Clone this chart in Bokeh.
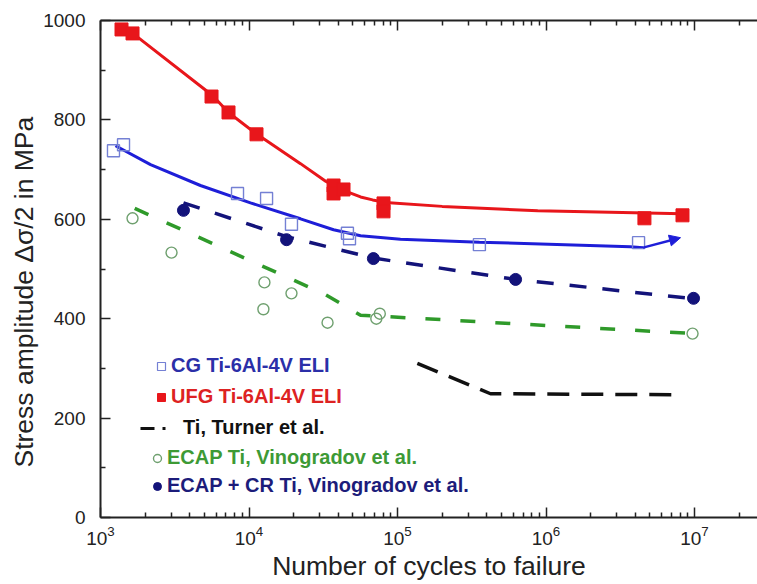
from bokeh.plotting import figure
from bokeh.models import (LogAxis, Legend, LegendItem, Arrow, NormalHead, Title,
                          FixedTicker, Range1d, LogTickFormatter)
from bokeh.embed import file_html
from bokeh.resources import INLINE

NAN = float("nan")

# ---------------- data ----------------
ufg_n = [1385, 1643, 5593, 7278, 11233, 37100, 37100, 43300, 80500, 80500, 4.6e6, 8.3e6]
ufg_s = [982, 974, 847, 815, 771, 668, 652, 660, 632, 616, 602, 608]
ufg_fit_n = [1365, 1650, 5680, 7278, 11070, 22230, 33000, 45000, 56400, 68000, 83000, 200000, 880000, 8.3e6]
ufg_fit_s = [984, 974, 849, 815, 773, 712, 676, 656, 645, 639, 634, 626, 617, 611]

cg_n = [1223, 1429, 8369, 13130, 19320, 46000, 47500, 356000, 4.2e6]
cg_s = [738, 750, 652, 642, 590, 572, 561, 549, 553]
cg_fit_n = [1262, 2173, 4710, 10230, 22230, 37100, 56400, 104700, 356000, 3.7e6, 4.5e6]
cg_fit_s = [748, 710, 668, 633, 601, 579, 567, 560, 554, 545, 543]
cg_arrow_n = [4.5e6, 8.05e6]
cg_arrow_s = [543, 563]

cr_n = [3620, 17900, 68800, 624000, 9.85e6]
cr_s = [618, 559, 521, 479, 441]
cr_fit_n = [3620, 17900, 68800, 624000, 1e7]
cr_fit_s = [633, 565, 522, 479, 440]

ecap_n = [1643, 3008, 12700, 19320, 12500, 33800, 72000, 76000, 9.7e6]
ecap_s = [602, 533, 473, 451, 419, 392, 400, 410, 370]
ecap_fit_n = [1700, 33000, 56400, 1e7]
ecap_fit_s = [622, 448, 407, 370]

turner_n = [136000, 423000, 8.06e6]
turner_s = [310, 249, 247]

x_major = [1e3, 1e4, 1e5, 1e6, 1e7]
x_minor = [k * 10 ** e for e in range(3, 8) for k in range(2, 10)]
y_major = [0, 200, 400, 600, 800, 1000]
y_minor = [100, 300, 500, 700, 900]

x_title = "Number of cycles to failure"
y_title = "Stress amplitude \u0394\u03c3/2 in MPa"
labels = ["CG Ti-6Al-4V ELI", "UFG Ti-6Al-4V ELI", "Ti, Turner et al.",
          "ECAP Ti, Vinogradov et al.", "ECAP + CR Ti, Vinogradov et al."]

# ---------------- styles ----------------
RED = "#e8161b"
BLUE = "#1e1ed8"
BLUE_MK = "#7480d4"
NAVY = "#13137a"
GREEN = "#2f9a2a"
GREEN_MK = "#6fa06f"
FONT = "Liberation Sans"

p = figure(width=757, height=584, x_axis_type="log",
           x_range=Range1d(1e3, 10 ** 7.4242), y_range=Range1d(0, 1000),
           output_backend="svg", toolbar_location=None,
           min_border_left=100, min_border_right=0, min_border_top=20, min_border_bottom=67)
p.outline_line_color = None
p.xgrid.visible = False
p.ygrid.visible = False
p.background_fill_color = "white"
p.border_fill_color = "white"

bottom = p.below[0]
left = p.left[0]

# fitted lines
p.line(ufg_fit_n, ufg_fit_s, line_color=RED, line_width=3)
p.line(cg_fit_n, cg_fit_s, line_color=BLUE, line_width=3)
p.line(cr_fit_n, cr_fit_s, line_color=NAVY, line_width=3.5, line_dash="17 16")
p.line(ecap_fit_n, ecap_fit_s, line_color=GREEN, line_width=3.5, line_dash="15 20")
p.line(turner_n, turner_s, line_color="#111111", line_width=3.5, line_dash="22 12")

p.add_layout(Arrow(end=NormalHead(size=11, fill_color=BLUE, line_color=BLUE),
                   x_start=cg_arrow_n[0], y_start=cg_arrow_s[0],
                   x_end=cg_arrow_n[1], y_end=cg_arrow_s[1],
                   line_color=BLUE, line_width=2.5))

# markers
p.scatter(ecap_n, ecap_s, marker="circle", size=11, fill_color=None,
          line_color=GREEN_MK, line_width=1.4)
p.scatter(cr_n, cr_s, marker="circle", size=12, fill_color=NAVY, line_color=NAVY)
p.scatter(cg_n, cg_s, marker="square", size=12, fill_color=None,
          line_color=BLUE_MK, line_width=1.4)
p.scatter(ufg_n, ufg_s, marker="square", size=13, fill_color=RED, line_color=RED)

# legend-only glyphs (no visible data)
lg_cg = p.scatter([NAN], [NAN], marker="square", size=7, fill_color=None,
                  line_color=BLUE_MK, line_width=1.2)
lg_ufg = p.scatter([NAN], [NAN], marker="square", size=7, fill_color=RED, line_color=RED)
lg_tur = p.line([NAN, NAN], [NAN, NAN], line_color="#111111", line_width=3, line_dash="14 8 3 8")
lg_ecap = p.scatter([NAN], [NAN], marker="circle", size=9, fill_color=None,
                    line_color=GREEN_MK, line_width=1.4)
lg_cr = p.scatter([NAN], [NAN], marker="circle", size=9, fill_color=NAVY, line_color=NAVY)

# axes
bottom.ticker = FixedTicker(ticks=x_major, minor_ticks=x_minor)
bottom.formatter = LogTickFormatter()
left.ticker = FixedTicker(ticks=y_major, minor_ticks=y_minor)

top = LogAxis(ticker=FixedTicker(ticks=x_major, minor_ticks=x_minor),
              major_label_text_font_size="1px", major_label_text_alpha=0,
              major_label_standoff=0)
p.add_layout(top, "above")

for ax in [bottom, left, top]:
    ax.axis_line_width = 2
    ax.axis_line_color = "#222222"
    ax.major_tick_in = 10
    ax.major_tick_out = 0
    ax.minor_tick_in = 5
    ax.minor_tick_out = 0
    ax.major_tick_line_width = 1.5
    ax.minor_tick_line_width = 1.5
    ax.major_tick_line_color = "#222222"
    ax.minor_tick_line_color = "#222222"

for ax in [bottom, left]:
    ax.major_label_text_font = FONT
    ax.major_label_text_font_size = "19px"
    ax.major_label_text_color = "#222222"

bottom.axis_label = x_title
bottom.axis_label_text_font = FONT
bottom.axis_label_text_font_size = "26.5px"
bottom.axis_label_text_font_style = "normal"
bottom.axis_label_text_color = "#222222"
bottom.major_label_standoff = 8
bottom.axis_label_standoff = 3
left.major_label_standoff = 15

# y title: a side title so it can sit a little below the frame centre
p.add_layout(Title(text=y_title, align="left", offset=50, standoff=4,
                   text_font=FONT, text_font_size="26.5px", text_font_style="normal",
                   text_color="#222222"), "left")

# legend: one box per entry so each label keeps its own colour
leg_specs = [
    (lg_cg, labels[0], "#2b2fa8", 51, 140, 20, -3),
    (lg_ufg, labels[1], "#dd2222", 51, 109, 20, -4),
    (lg_tur, labels[2], "#111111", 40, 78, 27, 16),
    (lg_ecap, labels[3], "#3d9a35", 47, 48, 20, -2),
    (lg_cr, labels[4], "#1c1c7a", 47, 20, 20, 0),
]
for rend, lab, col, lx, ly, gw, so in leg_specs:
    leg = Legend(items=[LegendItem(label=lab, renderers=[rend])], location=(lx, ly),
                 padding=0, margin=0, spacing=0, border_line_color=None,
                 background_fill_alpha=0, glyph_width=gw, glyph_height=20,
                 label_standoff=so, label_height=20,
                 label_text_color=col, label_text_font=FONT,
                 label_text_font_style="bold", label_text_font_size="20px")
    p.add_layout(leg)

open("out.html", "w").write(file_html(p, INLINE))
